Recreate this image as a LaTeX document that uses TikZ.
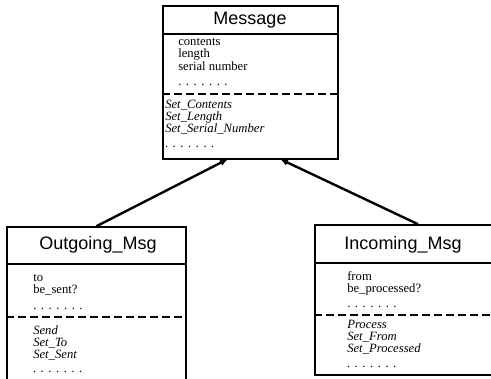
\documentclass[tikz,border=0pt]{standalone}
\usepackage{fontspec}
\setmainfont{Liberation Serif}
\newfontfamily\titlefont{Liberation Sans}
\usetikzlibrary{arrows.meta}

\tikzset{
	classbox/.style={draw, line width=1.2pt, inner sep=0pt},
	classtitle/.style={font=\titlefont\fontsize{13.5}{16}\selectfont, inner sep=0pt},
	attrlist/.style={font=\fontsize{9.5}{9.4}\selectfont, align=left, anchor=north west, inner sep=0pt},
	methlist/.style={font=\itshape\fontsize{9.5}{9}\selectfont, align=left, anchor=north west, inner sep=0pt},
	divider/.style={line width=1.2pt},
	dashdivider/.style={line width=1.2pt, dash pattern=on 6pt off 3pt},
	inherit/.style={line width=1.8pt, -{Latex[length=6pt,width=5pt]}},
}
\newcommand{\dotrow}{.\hspace{3.4pt}.\hspace{3.4pt}.\hspace{3.4pt}.\hspace{3.4pt}.\hspace{3.4pt}.\hspace{3.4pt}.}

\begin{document}
\begin{tikzpicture}[x=0.75pt, y=-0.75pt]
	\useasboundingbox (0,0) rectangle (491,378);
	\clip (0,0) rectangle (491,378);

	% classes
	\node[classbox, minimum width=131.25pt, minimum height=114.75pt] (message) at (250.5,82.5) {};
	\node[classbox, minimum width=134.25pt, minimum height=116.25pt] (outgoing) at (96.5,304.5) {};
	\node[classbox, minimum width=154.5pt, minimum height=112.5pt] (incoming) at (418,300) {};

	\draw[divider] (message.west |- 0,34) -- (message.east |- 0,34);
	\draw[dashdivider] (message.west |- 0,94) -- (message.east |- 0,94);
	\draw[divider] (outgoing.west |- 0,264) -- (outgoing.east |- 0,264);
	\draw[dashdivider] (outgoing.west |- 0,317) -- (outgoing.east |- 0,317);
	\draw[divider] (incoming.west |- 0,263) -- (incoming.east |- 0,263);
	\draw[dashdivider] (incoming.west |- 0,315) -- (incoming.east |- 0,315);

	% texts
	\node[classtitle] (messagetitle) at (250,20) {Message};
	\node[attrlist] (messageattr) at (178,38) {contents\\length\\serial number\\[2pt]\dotrow};
	\node[methlist] (messagemeth) at (165,100) {Set\_Contents\\Set\_Length\\Set\_Serial\_Number\\[2pt]\dotrow};

	\node[classtitle] (outgoingtitle) at (98,245) {Outgoing\_Msg};
	\node[attrlist] (outgoingattr) at (33,274) {to\\be\_sent?\\[2pt]\dotrow};
	\node[methlist] (outgoingmeth) at (33,325) {Send\\Set\_To\\Set\_Sent\\[2pt]\dotrow};

	\node[classtitle] (incomingtitle) at (403,245) {Incoming\_Msg};
	\node[attrlist] (incomingattr) at (347,271) {from\\be\_processed?\\[2pt]\dotrow};
	\node[methlist] (incomingmeth) at (347,320) {Process\\Set\_From\\Set\_Processed\\[2pt]\dotrow};

	% inheritance
	\coordinate (messageleft) at (228,159);
	\coordinate (messageright) at (280,159);
	\draw[inherit] (outgoing.north) -- (messageleft);
	\draw[inherit] (incoming.north) -- (messageright);
\end{tikzpicture}
\end{document}
